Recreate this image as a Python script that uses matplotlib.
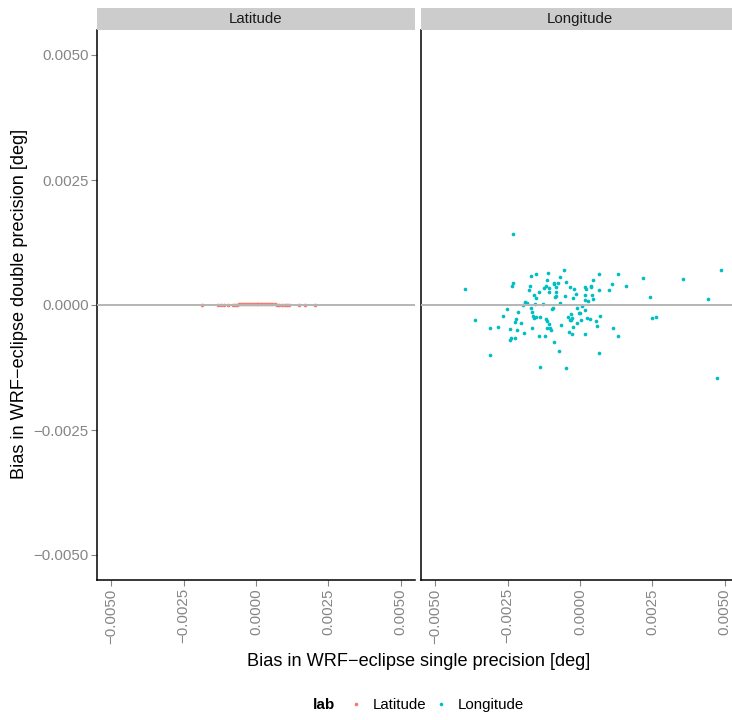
import numpy as np
import matplotlib.pyplot as plt
from matplotlib.lines import Line2D

plt.rcParams['font.family'] = ['Liberation Sans', 'DejaVu Sans']

# Latitude bias: single vs double precision (all tiny, sitting on zero)
lat_x = [-0.00186, -0.00131, -0.00122, -0.00112, -0.00097, -0.00080, -0.00074,
         -0.00066, -0.00058, -0.00051, -0.00044, -0.00037, -0.00030, -0.00024,
         -0.00017, -0.00011, -0.00005, 0.00002, 0.00008, 0.00015, 0.00021,
         0.00028, 0.00035, 0.00042, 0.00050, 0.00057, 0.00065, 0.00073,
         0.00081, 0.00090, 0.00099, 0.00108, 0.00115, 0.00150, 0.00170, 0.00205]
lat_y = [0.0, 0.0, 0.0, 0.0, 0.0, 0.000004, 0.000008, 0.00001, 0.000012,
         0.000015, 0.000018, 0.00002, 0.000022, 0.000024, 0.000025, 0.000026,
         0.000027, 0.000028, 0.000027, 0.000026, 0.000025, 0.000024, 0.000022,
         0.00002, 0.000018, 0.000015, 0.000012, 0.00001, 0.000008, 0.000006,
         0.000004, 0.000002, 0.0, 0.0, 0.0, 0.0]

# Longitude bias
lon_x = [-0.002318, -0.003979, -0.003643, -0.003114, -0.002848, -0.003124,
         -0.002675, -0.002536, -0.002363, -0.002308, -0.002422, -0.002398,
         -0.002422, -0.002249, -0.002259, -0.002225, -0.002190, -0.002145,
         -0.002041, -0.001927, -0.001972, -0.001893, -0.001844, -0.001706,
         -0.001730, -0.001754, -0.001512, -0.001592, -0.001512, -0.001419,
         -0.001706, -0.001661, -0.001616, -0.001592, -0.001512, -0.001650,
         -0.001567, -0.001408, -0.001221, -0.001374, -0.001280, -0.001246,
         -0.001176, -0.001131, -0.001097, -0.001083, -0.001083, -0.001176,
         -0.001142, -0.001083, -0.001152, -0.001038, -0.001014, -0.000979,
         -0.000924, -0.000910, -0.000889, -0.000841, -0.000761, -0.000841,
         -0.000875, -0.000830, -0.000910, -0.000737, -0.000647, -0.000702,
         -0.000692, -0.000543, -0.000474, -0.000356, -0.000529, -0.000208,
         -0.000128, -0.000232, -0.000093, -0.000035, -0.000426, -0.000356,
         -0.000277, -0.000253, -0.000266, -0.000391, -0.001374, -0.000484,
         0.000163, 0.000208, 0.000370, 0.000391, 0.000450, 0.000647,
         0.000183, 0.000415, 0.000183, 0.000277, 0.000460, 0.000647,
         0.000993, 0.001107, 0.001304, 0.001581, 0.002180, 0.002422,
         0.003553, 0.004429, 0.004889, 0.000069, 0.000163, 0.0,
         -0.000301, -0.000301, 0.000045, -0.000114, 0.000253, 0.000346,
         0.000564, 0.000702, 0.000599, 0.000183, 0.001142, 0.001325,
         0.000668, 0.002481, 0.002619, 0.004751]
lon_y = [0.001420, 0.000315, -0.000307, -0.000468, -0.000448, -0.000990,
         -0.000227, -0.000086, 0.000375, 0.000436, -0.000488, -0.000669,
         -0.000703, -0.000669, -0.000335, -0.000275, -0.000508, -0.000147,
         -0.000367, -0.000568, -0.000006, 0.000066, 0.000046, 0.000582,
         0.000375, 0.000295, 0.000616, 0.000201, 0.000147, 0.000255,
         -0.000066, -0.000135, -0.000221, -0.000267, -0.000247, -0.000456,
         0.000014, -0.000629, -0.000629, -0.000235, 0.000014, 0.000335,
         0.000388, 0.000496, 0.000637, 0.000335, 0.000255, -0.000275,
         -0.000321, -0.000375, -0.000468, -0.000468, -0.000508, -0.000086,
         -0.000066, 0.000442, 0.000416, 0.000355, 0.000436, 0.000255,
         0.000161, 0.000175, -0.000749, -0.000910, -0.000408, 0.000568,
         0.000034, 0.000697, 0.000456, 0.000355, 0.000175, 0.000315,
         0.000215, 0.000135, -0.000066, -0.000167, -0.000247, -0.000307,
         -0.000255, -0.000448, -0.000588, -0.000548, -0.001245, -0.001265,
         0.000355, 0.000315, 0.000375, 0.000355, 0.000496, 0.000616,
         0.000195, 0.000195, 0.000094, 0.000074, 0.000114, 0.000295,
         0.000295, 0.000416, 0.000616, 0.000375, 0.000536, 0.000155,
         0.000516, 0.000114, 0.000697, -0.000026, -0.000106, -0.000167,
         -0.000187, -0.000295, -0.000307, -0.000367, -0.000267, -0.000287,
         -0.000327, -0.000227, -0.000428, -0.000588, -0.000468, -0.000629,
         -0.000950, -0.000267, -0.000247, -0.001452]

panels = ['Latitude', 'Longitude']
colors = ['#F8766D', '#00BFC4']
ticks = [-0.005, -0.0025, 0.0, 0.0025, 0.005]
tick_labels = ['\u22120.0050', '\u22120.0025', '0.0000', '0.0025', '0.0050']

W, H = 732, 720
fig = plt.figure(figsize=(W / 100, H / 100), dpi=100)

def fx(px):
    return px / W

def fy(py):
    return 1 - py / H

lefts = [97, 421]
pw = 318
top, bot = 30, 580
data = [(lat_x, lat_y), (lon_x, lon_y)]
tick_col = '#858585'

for i in range(2):
    ax = fig.add_axes([fx(lefts[i]), fy(bot), pw / W, (bot - top) / H])
    ax.set_xlim(-0.0055, 0.0055)
    ax.set_ylim(-0.0055, 0.0055)
    ax.scatter(data[i][0], data[i][1], s=7, color=colors[i], lw=0, zorder=2)
    ax.axhline(0, color='#B5B5B5', lw=1.4, zorder=3)
    for s in ['top', 'right']:
        ax.spines[s].set_visible(False)
    for s in ['left', 'bottom']:
        ax.spines[s].set_linewidth(1.1)
        ax.spines[s].set_color('black')
    ax.set_xticks(ticks)
    ax.set_xticklabels(tick_labels, rotation=90, fontsize=10.8, color=tick_col)
    ax.set_yticks(ticks)
    if i == 0:
        ax.set_yticklabels(tick_labels, fontsize=10.8, color=tick_col)
        ax.tick_params(axis='y', length=4, width=0.8, color=tick_col, pad=2)
    else:
        ax.tick_params(axis='y', length=0, labelleft=False)
    ax.tick_params(axis='x', length=4, width=0.8, color=tick_col, pad=2)

    # facet strip
    strip = fig.add_axes([fx(lefts[i]), fy(top), pw / W, 22 / H])
    strip.set_facecolor('#CCCCCC')
    strip.set_xticks([])
    strip.set_yticks([])
    for s in strip.spines.values():
        s.set_visible(False)
    strip.text(0.5, 0.5, panels[i], ha='center', va='center', fontsize=10.8,
               color='#1A1A1A', transform=strip.transAxes)

fig.text(fx(419), fy(661), 'Bias in WRF\u2212eclipse single precision [deg]',
         ha='center', va='center', fontsize=13.1)
fig.text(fx(20), fy(304), 'Bias in WRF\u2212eclipse double precision [deg]',
         ha='center', va='center', rotation=90, fontsize=13.1)

# legend
fig.text(fx(324), fy(705), 'lab', ha='center', va='center', fontsize=11,
         fontweight='bold')
handles = [Line2D([], [], ls='none', marker='o', ms=2.6, mec='none', mfc=c)
           for c in colors]
fig.legend(handles, panels, loc='center left', bbox_to_anchor=(fx(341), fy(705)),
           ncol=2, frameon=False, fontsize=10.8, handlelength=1.2,
           handletextpad=0.5, columnspacing=0.4, borderaxespad=0)

fig.savefig('out.png', dpi=100)
